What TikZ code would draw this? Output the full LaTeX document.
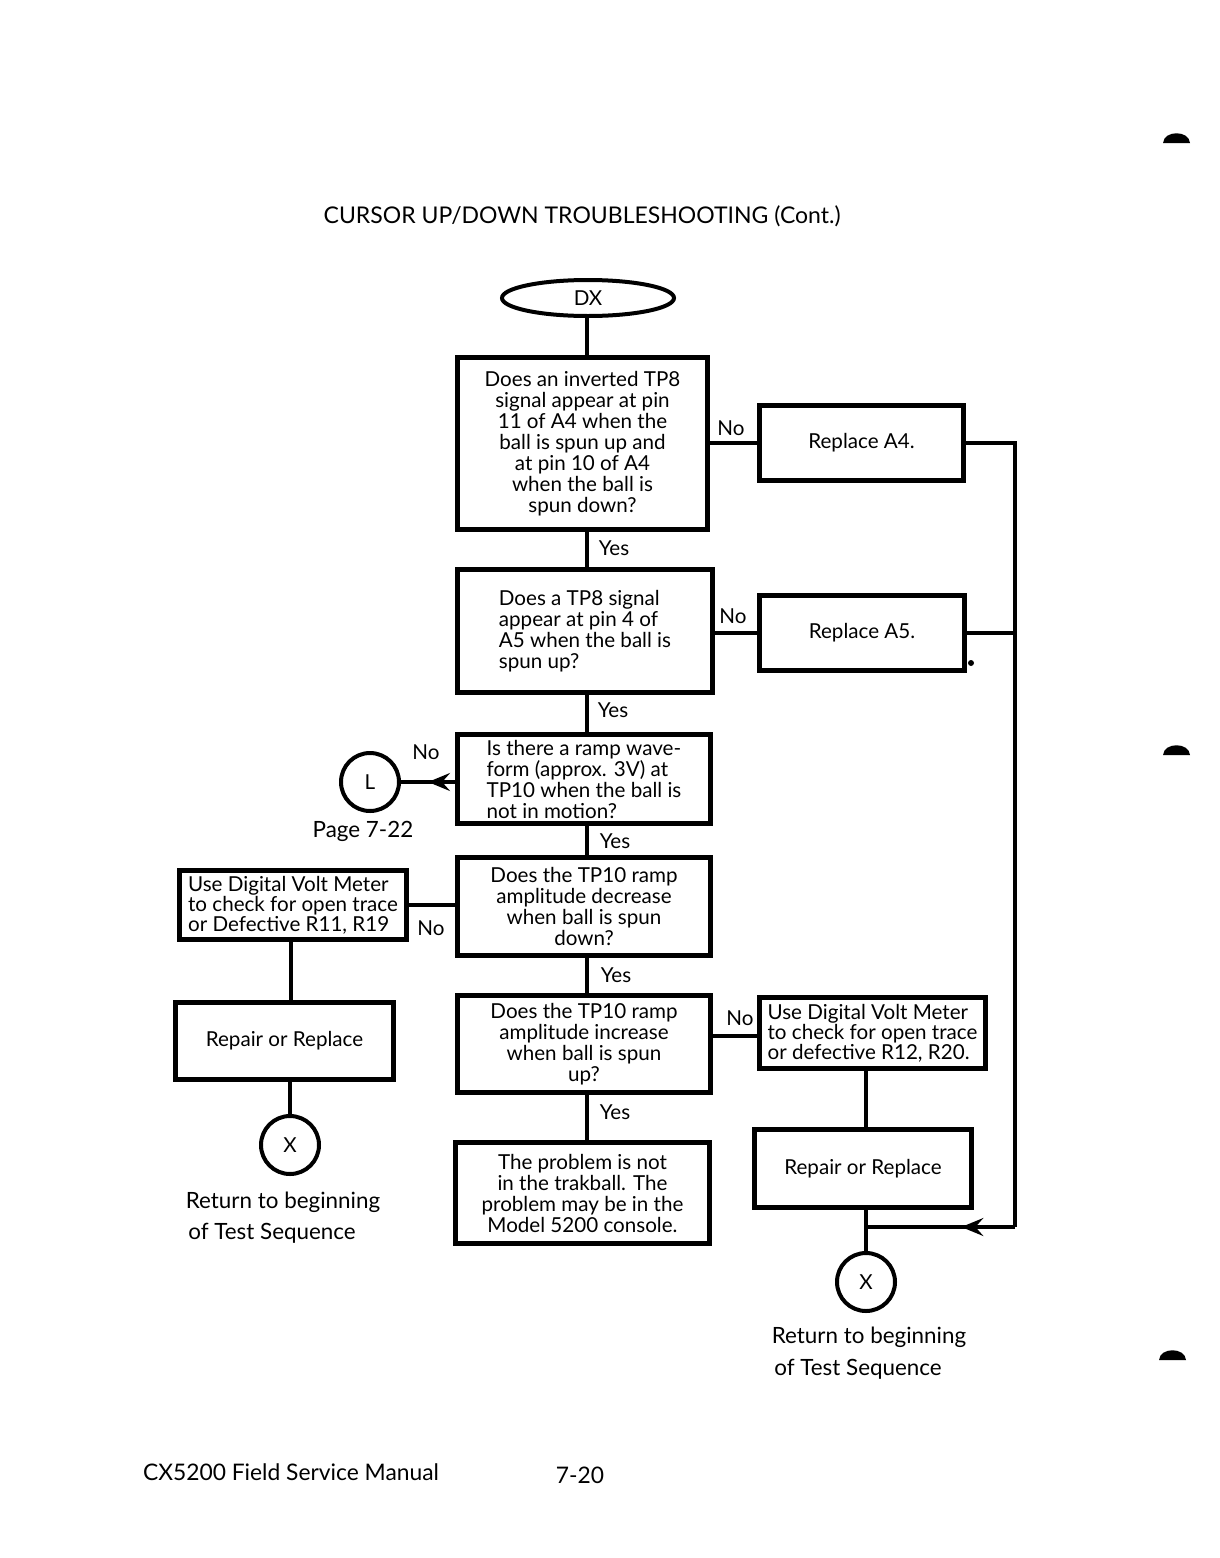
\documentclass[tikz,border=0pt]{standalone}
\usepackage{fontspec}
\setmainfont{Lato}
\usetikzlibrary{arrows.meta,decorations.markings,shapes.geometric,calc}
\newcommand{\bxfont}{\fontsize{10.3}{10.5}\selectfont}
\newcommand{\dvfont}{\fontsize{10.3}{10}\selectfont}
\newcommand{\lbfont}{\fontsize{11.2}{16}\selectfont}
\begin{document}
\begin{tikzpicture}[x=0.5pt,y=-0.5pt,
  box/.style={draw, line width=2.4pt, inner sep=0pt, align=center, font=\bxfont},
  lbox/.style={box, align=left},
  term/.style={draw, ellipse, line width=2pt, inner sep=0pt, font=\bxfont},
  conn/.style={draw, circle, line width=2pt, inner sep=0pt, minimum size=29pt, font=\bxfont},
  wire/.style={line width=1.6pt},
  lbl/.style={font=\bxfont, inner sep=0pt},
  note/.style={font=\lbfont, inner sep=0pt, align=left},
  midarrow/.style={decoration={markings, mark=at position #1 with {\arrow{Stealth[length=11pt,width=9pt,inset=4pt]}}}, postaction={decorate}},
  hole/.style={fill=black}
]
\useasboundingbox[fill=white] (0,0) rectangle (1220,1558);

% title
\node[inner sep=0pt, font=\fontsize{11.5}{14}\selectfont] (title) at (582,216) {CURSOR UP/DOWN TROUBLESHOOTING (Cont.)};

% spine
\coordinate (sp) at (587,0);

% main column
\node[term, minimum width=86pt, minimum height=18pt] (dx) at (588,298) {DX};
\node[box, minimum width=125pt, minimum height=86pt] (q1) at (582.5,443.5)
  {Does an inverted TP8\\signal appear at pin\\11 of A4 when the\\ball is spun up and\\at pin 10 of A4\\when the ball is\\spun down?};
\node[lbox, minimum width=127.5pt, minimum height=61.5pt] (q2) at (585,631)
  {Does a TP8 signal\\appear at pin 4 of\\A5 when the ball is\\spun up?};
\node[lbox, minimum width=126.5pt, minimum height=44.5pt] (q3) at (584,779)
  {Is there a ramp wave-\\form (approx. 3V) at\\TP10 when the ball is\\not in motion?};
\node[box, minimum width=126.5pt, minimum height=49pt] (q4) at (584,906.5)
  {Does the TP10 ramp\\amplitude decrease\\when ball is spun\\down?};
\node[box, minimum width=126.5pt, minimum height=48.5pt] (q5) at (584,1044)
  {Does the TP10 ramp\\amplitude increase\\when ball is spun\\up?};
\node[box, minimum width=127pt, minimum height=50.5pt] (q6) at (582.5,1193)
  {The problem is not\\in the trakball. The\\problem may be in the\\Model 5200 console.};

% right column
\node[box, minimum width=102pt, minimum height=37.5pt] (ra4) at (861.5,443) {Replace A4.};
\node[box, minimum width=102.5pt, minimum height=37.5pt] (ra5) at (862,633) {Replace A5.};
\node[lbox, font=\dvfont, minimum width=113pt, minimum height=35.5pt] (dvmr) at (872.5,1033)
  {Use Digital Volt Meter\\to check for open trace\\or defective R12, R20.};
\node[box, minimum width=108.5pt, minimum height=39pt] (repr) at (863,1168.5) {Repair or Replace};
\node[conn] (xr) at (866,1282) {X};
\node[note] (retr1) at (869,1337) {Return to beginning};
\node[note] (retr2) at (858,1369) {of Test Sequence};

% left column
\node[conn] (l) at (370,782) {L};
\node[note] (pg) at (363,831) {Page 7-22};
\node[lbox, font=\dvfont, minimum width=113.5pt, minimum height=34.5pt] (dvml) at (293,905)
  {Use Digital Volt Meter\\to check for open trace\\or Defective R11, R19};
\node[box, minimum width=109pt, minimum height=38.5pt] (repl) at (284.5,1041) {Repair or Replace};
\node[conn] (xl) at (290,1145) {X};
\node[note] (retl1) at (283,1202) {Return to beginning};
\node[note] (retl2) at (272,1233) {of Test Sequence};

% rail coordinates
\coordinate (rail) at (1015,0);
\coordinate (join) at (866,1227);

% connectors: main spine
\draw[wire] (dx.south -| sp) -- (q1.north -| sp);
\draw[wire] (q1.south -| sp) -- (q2.north -| sp);
\draw[wire] (q2.south -| sp) -- (q3.north -| sp);
\draw[wire] (q3.south -| sp) -- (q4.north -| sp);
\draw[wire] (q4.south -| sp) -- (q5.north -| sp);
\draw[wire] (q5.south -| sp) -- (q6.north -| sp);

\node[lbl] (y1) at (614,548) {Yes};
\node[lbl] (y2) at (613,710) {Yes};
\node[lbl] (y3) at (615,841) {Yes};
\node[lbl] (y4) at (616,975) {Yes};
\node[lbl] (y5) at (615,1112) {Yes};

% No branches
\draw[wire] (q1.east |- ra4.west) -- (ra4.west);
\node[lbl] (n1) at (731,428) {No};
\draw[wire] (q2.east |- ra5.west) -- (ra5.west);
\node[lbl] (n2) at (733,616) {No};
\draw[wire, midarrow=0.5] (q3.west |- l.east) -- (l.east);
\node[lbl] (n3) at (426,752) {No};
\draw[wire] (q4.west |- dvml.east) -- (dvml.east);
\node[lbl] (n4) at (431,928) {No};
\draw[wire] ($(q5.east)+(0,-8)$) -- ($(dvmr.west)+(0,3)$);
\node[lbl] (n5) at (740,1018) {No};

% right rail
\draw[wire] (ra4.east) -- (ra4.east -| rail) -- (join -| rail);
\draw[wire] (ra5.east) -- (ra5.east -| rail);
\draw[wire, midarrow=0.36] (join -| rail) -- (join);

% vertical links
\draw[wire] (dvmr.south -| join) -- (repr.north -| join);
\draw[wire] (repr.south -| join) -- (xr.north);
\draw[wire] (dvml.south) ++(-2,0) coordinate (dl) -- (repl.north -| dl);
\draw[wire] (repl.south -| xl) -- (xl.north);

% stray dot near Replace A5
\fill (971,663) circle[radius=3];

% punch-hole marks on right edge
\fill[hole] (1163,143) .. controls (1164,130) and (1189,130) .. (1190,143) -- cycle;
\fill[hole] (1163,755) .. controls (1164,742) and (1189,742) .. (1190,755) -- cycle;
\fill[hole] (1159,1360) .. controls (1160,1347) and (1185,1347) .. (1186,1360) -- cycle;

% footer
\node[inner sep=0pt, font=\fontsize{11.4}{14}\selectfont] (foot) at (291,1472) {CX5200 Field Service Manual};
\node[inner sep=0pt, font=\fontsize{11.4}{14}\selectfont] (pno) at (580,1475) {7-20};
\end{tikzpicture}
\end{document}
